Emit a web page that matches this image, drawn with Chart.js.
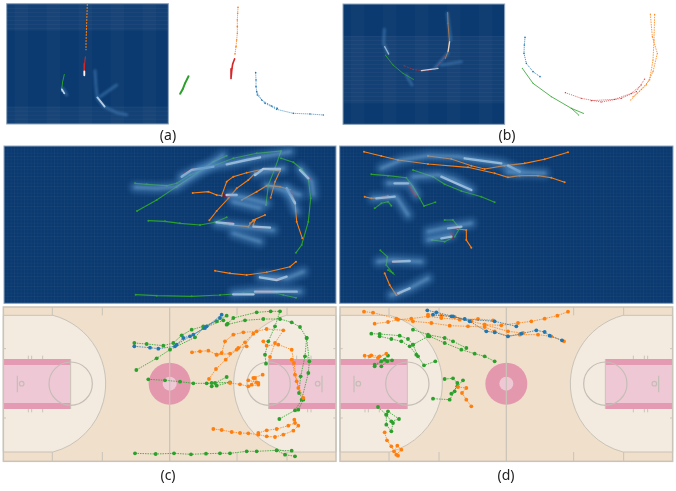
<!DOCTYPE html>
<html>
<head>
<meta charset="utf-8">
<script src="https://cdn.jsdelivr.net/npm/chart.js@4/dist/chart.umd.min.js"></script>
<style>
  html, body { margin: 0; padding: 0; background: #fff; }
  body { position: relative; width: 676px; height: 491px; overflow: hidden; }
  .panel { position: absolute; }
  .cap { position: absolute; font: 14px "Noto Sans", sans-serif; color: #222; transform: translateX(-50%); }
</style>
</head>
<body>
<canvas class="panel" id="a" width="338" height="145" style="left:0;top:0"></canvas>
<canvas class="panel" id="b" width="338" height="145" style="left:338px;top:0"></canvas>
<canvas class="panel" id="c" width="338" height="160" style="left:0;top:145px"></canvas>
<canvas class="panel" id="d" width="338" height="160" style="left:338px;top:145px"></canvas>
<canvas class="panel" id="e" width="338" height="188" style="left:0;top:303px"></canvas>
<canvas class="panel" id="f" width="338" height="188" style="left:338px;top:303px"></canvas>
<div class="cap" style="left:168px;top:125px">(a)</div>
<div class="cap" style="left:507px;top:125px">(b)</div>
<div class="cap" style="left:168px;top:465px">(c)</div>
<div class="cap" style="left:506px;top:465px">(d)</div>
<script>
// every panel has its own axis, in thirds of a pixel
const aOrange = [[262,12],[261,40],[260,70],[259,100],[258,130],[258,150]]
const aRed = [[256,170],[254,190],[253,205],[252,225]]
const aGreen = [[193,223],[188,245],[184,275]]
const aGlow = [[[285,212],[288,260],[292,295],[312,320],[350,338],[380,344]], [[188,265],[200,285]], [[300,290],[350,255]]]
const aWhite = [[[186,268],[193,280]], [[292,292],[314,320]], [[253,214],[253,226]]]
const aRightOrange = [[714,22],[713,40],[712,60],[712,80],[712,100],[710,120],[708,140],[705,162]]
const aRightRed = [[704,176],[698,192],[696,205],[693,236]]
const aRightGreen = [[566,228],[555,250],[548,268],[540,282]]
const aRightBlue = [[[767,218],[768,240],[768,260],[772,285],[795,310],[830,328],[880,340],[930,342],[970,345]], [[770,275],[785,300],[815,318],[832,325]]]

const bOrange = [[329,38],[330,70],[334,120],[332,150],[322,175]]
const bRed = [[198,197],[225,208],[255,213],[290,208],[320,170]]
const bGreen = [[142,165],[165,195],[195,220],[226,238]]
const bGlow = [[[139,88],[137,130],[150,160]], [[328,40],[338,120]], [[222,255],[205,225]], [[290,205],[330,160]], [[310,195],[370,185]]]
const bWhite = [[[140,140],[152,162]], [[250,212],[300,205]], [[335,125],[330,155]]]
const bRightBlue = [[561,112],[559,135],[558,160],[565,190],[585,215],[606,230]]
const bRightGreen = [[[553,205],[585,250],[640,290],[700,325],[736,340]], [[700,325],[722,345]]]
const bRightRed = [[[682,278],[730,295],[790,306],[850,295],[895,275],[920,237]], [[760,302],[830,298],[880,280],[910,255]]]
const bRightOrange = [[[937,42],[943,110],[958,160],[945,215],[925,255],[878,300]], [[950,43],[948,120],[945,180],[935,240],[910,268],[885,290]]]

const cGreen = [
  [[405,115],[440,118],[500,122],[530,115],[570,90],[620,70],[700,40],[770,25],[843,18],[825,70],[805,120],[798,180]],
  [[411,198],[470,165],[530,125],[590,85],[640,50],[680,32]],
  [[843,40],[880,52],[905,72],[925,100],[932,160],[925,230],[905,300],[888,323]],
  [[445,227],[495,229],[540,235],[600,240],[645,232],[680,217]],
  [[645,232],[690,240]],
  [[407,449],[470,452],[575,454],[660,450],[730,445],[830,445],[850,450],[888,458]]
]
const cOrange = [
  [[578,144],[625,140],[650,150],[665,152],[680,110],[700,95],[740,83],[790,72],[840,78],[825,110],[812,158]],
  [[628,226],[650,198],[685,160],[710,130],[745,105],[765,85]],
  [[725,165],[770,140],[800,122],[840,125],[870,135],[885,170],[890,230],[907,280]],
  [[690,240],[745,245],[760,225],[795,210]],
  [[750,235],[765,225],[760,240]],
  [[645,377],[690,385],[740,390],[800,382],[870,365],[888,350]]
]
const cGlow = [
  [[405,127],[470,130],[530,125],[600,80],[670,30]],
  [[545,95],[600,70],[690,55],[780,35],[870,20]],
  [[690,150],[740,160],[800,175]], [[700,170],[780,190]], [[650,235],[730,245],[820,255]],
  [[700,265],[780,290]], [[765,85],[850,70]], [[860,130],[890,200]], [[900,70],[935,110],[940,150]],
  [[780,395],[860,400],[910,380]], [[700,445],[800,435],[900,440]], [[800,120],[900,150]]
]
const cWhite = [
  [[545,95],[575,75],[640,65]], [[680,58],[740,45],[780,37]], [[765,90],[790,72],[840,72]],
  [[680,150],[710,150]], [[860,130],[885,175]], [[900,75],[925,100]], [[650,232],[700,237]],
  [[760,245],[810,248]], [[780,397],[830,405],[860,395]], [[700,448],[760,448]], [[765,440],[890,440]]
]
const cDarkRed = [
  [[555,85],[580,72]], [[672,152],[698,152]], [[868,138],[880,146]], [[920,95],[930,102]],
  [[678,235],[698,236]], [[760,246],[785,247]], [[825,403],[838,408]], [[770,440],[815,440]]
]

const dGreen = [
  [[100,88],[150,92],[205,98],[225,125],[245,160],[258,183],[292,172]],
  [[225,75],[285,95],[320,118],[370,138],[430,155],[470,172]],
  [[110,190],[130,175],[150,170],[160,182]],
  [[320,225],[345,225],[365,250],[350,275],[320,290],[282,285]],
  [[127,316],[148,335],[145,360],[165,385],[150,375]]
]
const dOrange = [
  [[78,20],[130,33],[180,45],[270,57],[390,67],[470,85],[510,97],[545,92],[600,92],[640,98],[680,112]],
  [[270,33],[340,42],[400,62],[440,72],[500,62],[560,55],[620,43],[690,22]],
  [[80,155],[100,160],[125,158],[150,152]],
  [[358,252],[385,255],[385,285],[400,308]],
  [[140,385],[155,420],[175,450],[190,445]]
]
const dGlow = [
  [[130,70],[190,45],[270,32],[360,35],[420,45],[490,55],[545,80]],
  [[225,95],[300,90],[350,105],[400,135]], [[150,115],[215,115],[235,150]],
  [[105,160],[175,155],[210,210]], [[270,260],[340,245],[400,235]], [[270,285],[340,270]],
  [[120,350],[165,345],[250,350]], [[160,450],[215,430],[270,400]], [[510,80],[620,85]]
]
const dWhite = [
  [[380,40],[490,55]], [[510,62],[545,80]], [[310,95],[400,135]], [[170,115],[210,115]],
  [[115,160],[170,155]], [[330,250],[370,245]], [[310,280],[340,275]], [[165,350],[215,348]], [[180,445],[215,430]]
]
const dDarkRed = [
  [[125,160],[155,155]], [[215,125],[235,155]], [[335,250],[360,248]], [[340,265],[345,278]],
  [[165,352],[190,345]], [[178,445],[192,442]]
]

const eGreen = [
  [[403,120],[440,123],[490,128],[520,120],[545,97],[575,80],[610,70],[650,55],[680,38]],
  [[680,65],[735,52],[790,48],[840,48],[875,58],[900,72],[920,105],[928,175],[925,210],[905,290],[885,322],[838,348]],
  [[683,62],[700,45],[770,28],[812,25],[840,25],[825,70],[805,115],[795,155],[798,182]],
  [[409,201],[470,166],[510,140],[585,103],[610,75],[670,52]],
  [[445,229],[495,232],[540,236],[580,241],[620,241],[645,240],[680,222]],
  [[635,240],[690,238],[650,248],[635,250]],
  [[405,451],[467,453],[522,451],[573,454],[618,452],[660,451],[690,451],[740,445],[770,445],[830,442],[875,443]],
  [[830,442],[855,455],[885,460]],
  [[920,105],[915,160],[902,220],[897,270],[910,290],[895,320]]
]
const eBlue = [
  [[403,130],[450,134],[475,137],[525,130],[550,105],[580,95],[620,70],[660,45]],
  [[530,125],[570,100],[615,75],[665,35]]
]
const eOrange = [
  [[576,148],[600,145],[625,143],[650,155],[665,150],[675,115],[700,95],[730,88],[770,85],[800,78],[850,82],[825,120],[810,162]],
  [[627,228],[648,198],[677,170],[710,140],[735,118],[760,92]],
  [[650,155],[690,152],[715,135],[740,130]],
  [[790,115],[800,128],[835,125],[875,140],[882,180],[890,235],[910,285]],
  [[875,170],[885,215],[895,255]],
  [[690,240],[720,244],[745,250],[775,245],[760,225],[788,215]],
  [[745,232],[770,238],[755,245],[765,225],[775,240]],
  [[640,378],[665,381],[695,387],[720,390],[745,391],[775,395],[800,400],[825,402],[850,395],[880,383],[895,368],[883,350]],
  [[775,390],[800,382],[830,378],[865,368],[885,360]]
]

const fOrange = [
  [[78,26],[105,29],[175,47],[225,55],[280,60],[335,68],[390,70],[440,72],[470,85],[510,100],[545,95],[600,95],[640,100],[678,115]],
  [[110,62],[150,57],[180,50],[220,47],[270,40],[310,45],[365,50],[420,48],[465,52]],
  [[270,35],[310,38],[350,42],[400,55],[440,65],[490,67],[540,60],[580,55],[620,47],[658,38],[690,26]],
  [[440,65],[510,85],[555,90]],
  [[80,158],[100,157],[125,160],[145,152],[120,165],[95,160]],
  [[360,252],[385,255],[372,270],[385,290],[400,310]],
  [[140,388],[147,412],[160,430],[175,455],[190,440],[178,428],[168,445],[180,458]]
]
const fBlue = [
  [[268,22],[295,28],[345,40],[395,55],[445,85],[470,88],[510,100],[550,92],[595,82],[620,87],[635,98],[672,112]],
  [[285,35],[340,40],[380,48],[470,55],[535,70]]
]
const fGreen = [
  [[100,92],[125,93],[185,98],[210,108],[225,125],[240,160],[258,187],[292,175]],
  [[125,100],[160,108],[190,115],[215,130],[235,155]],
  [[225,80],[270,95],[320,105],[345,115],[385,135]],
  [[225,125],[270,100]],
  [[275,100],[320,120],[370,140],[410,152],[440,160],[470,175]],
  [[110,190],[130,175],[150,158]],
  [[110,185],[140,170],[162,172]],
  [[130,190],[148,175]],
  [[320,228],[345,226],[358,240],[350,265],[335,290],[285,287]],
  [[375,232],[358,250],[340,272]],
  [[120,312],[145,335],[160,355],[183,348],[150,325]],
  [[145,335],[145,365],[160,385],[165,360]]
]

const BLUE = '#1f77b4', ORANGE = '#ff7f0e', GREEN = '#2ca02c', RED = '#d62728'
const NAVY = '#0b3a70', EDGE = '#8fa6bf'

function trail(points, color, width, radius, dash) {
  return {
    data: points.map(p => ({ x: p[0], y: p[1] })),
    borderColor: color,
    backgroundColor: color,
    borderWidth: width,
    borderDash: dash || [],
    pointRadius: radius,
    pointBorderWidth: 0,
    tension: 0,
    fill: false
  }
}

function streak(points, color, width, blur) {
  const d = trail(points, color, width, 0)
  d.borderCapStyle = 'round'
  d.borderJoinStyle = 'round'
  d.blur = blur || 0
  return d
}

const trails = (list, color, width, radius, dash) => list.map(l => trail(l, color, width, radius, dash))
const streaks = (list, color, width, blur) => list.map(l => streak(l, color, width, blur))

// soft edges for the heat streaks
const softGlow = {
  id: 'softGlow',
  beforeDatasetDraw(chart, args) {
    const blur = chart.data.datasets[args.index].blur
    if (blur) chart.ctx.filter = `blur(${blur}px)`
  },
  afterDatasetDraw(chart) {
    chart.ctx.filter = 'none'
  }
}

// navy backdrop for the heat panels
function heatBack(box, stripe, band, grid) {
  return {
    id: 'heatBack',
    beforeDatasetsDraw(chart) {
      const { ctx, scales: { x, y } } = chart
      const X = v => x.getPixelForValue(v), Y = v => y.getPixelForValue(v)
      const [l, t, r, b] = box
      ctx.save()
      ctx.fillStyle = NAVY
      ctx.fillRect(X(l), Y(t), X(r) - X(l), Y(b) - Y(t))
      if (stripe) {
        ctx.fillStyle = 'rgba(255,255,255,0.022)'
        for (let v = l + 24; v < r; v += 96) ctx.fillRect(X(v), Y(t), X(40) - X(0), Y(b) - Y(t))
      }
      if (band) {
        band.forEach(([b0, b1]) => {
          ctx.fillStyle = 'rgba(255,255,255,0.035)'
          ctx.fillRect(X(l), Y(b0), X(r) - X(l), Y(b1) - Y(b0))
          ctx.fillStyle = 'rgba(255,255,255,0.035)'
          for (let v = b0; v < b1; v += 12) ctx.fillRect(X(l), Y(v), X(r) - X(l), 1)
        })
      }
      if (grid) {
        ctx.fillStyle = 'rgba(255,255,255,0.03)'
        for (let v = l; v < r; v += 10) ctx.fillRect(X(v), Y(t), 1, Y(b) - Y(t))
        for (let v = t; v < b; v += 10) ctx.fillRect(X(l), Y(v), X(r) - X(l), 1)
      }
      ctx.strokeStyle = EDGE
      ctx.lineWidth = 1
      ctx.strokeRect(X(l), Y(t), X(r) - X(l), Y(b) - Y(t))
      ctx.restore()
    }
  }
}

// the basketball court under panels (c) and (d)
function courtBack(l, r) {
  return {
    id: 'courtBack',
    beforeDatasetsDraw(chart) {
      const { ctx, scales: { x, y } } = chart
      const X = v => x.getPixelForValue(v), Y = v => y.getPixelForValue(v)
      const R = v => X(v) - X(0)
      const T = 12, B = 475, MY = 242, MX = (l + r) / 2
      const rect = (x0, y0, x1, y1, c) => { ctx.fillStyle = c; ctx.fillRect(X(x0), Y(y0), X(x1) - X(x0), Y(y1) - Y(y0)) }
      const seg = (x0, y0, x1, y1) => { ctx.beginPath(); ctx.moveTo(X(x0), Y(y0)); ctx.lineTo(X(x1), Y(y1)); ctx.stroke() }
      ctx.save()
      rect(l, T, r, B, '#efdfcb')
      ctx.strokeStyle = '#c9c3b8'
      ctx.lineWidth = 1

      ;[[l, 1], [r, -1]].forEach(([edge, dir]) => {
        // three point zone
        const cx = edge + dir * 95, rad = 212, half = 205
        ctx.beginPath()
        ctx.moveTo(X(edge), Y(MY - half))
        ctx.lineTo(X(edge + dir * 149), Y(MY - half))
        const a = Math.asin(half / rad)
        if (dir > 0) ctx.arc(X(cx), Y(MY), R(rad), -a, a, false)
        else ctx.arc(X(cx), Y(MY), R(rad), Math.PI + a, Math.PI - a, true)
        ctx.lineTo(X(edge), Y(MY + half))
        ctx.closePath()
        ctx.fillStyle = '#f3ebe0'
        ctx.fill()
        ctx.stroke()
        seg(edge + dir * 147, T, edge + dir * 147, MY - half)
        seg(edge + dir * 147, B, edge + dir * 147, MY + half)

        // paint
        const p0 = Math.min(edge, edge + dir * 202), p1 = Math.max(edge, edge + dir * 202)
        rect(p0, 168, p1, 318, '#efc8d6')
        rect(p0, 168, p1, 186, '#e59ab3')
        rect(p0, 300, p1, 318, '#e59ab3')
        seg(edge + dir * 202, 168, edge + dir * 202, 318)

        // free throw circle
        ctx.strokeStyle = '#c4beb6'
        ctx.lineWidth = 1.2
        ctx.beginPath()
        ctx.arc(X(edge + dir * 202), Y(MY), R(65), 0, Math.PI * 2)
        ctx.stroke()

        // hoop
        seg(edge + dir * 42, 218, edge + dir * 42, 268)
        ctx.beginPath()
        ctx.arc(X(edge + dir * 55), Y(MY), R(7), 0, Math.PI * 2)
        ctx.stroke()
        ctx.strokeStyle = '#c9c3b8'
        ctx.lineWidth = 1

        // hash marks
        ;[75, 85, 118].forEach(m => {
          seg(edge + dir * m, 158, edge + dir * m, 168)
          seg(edge + dir * m, 318, edge + dir * m, 328)
        })
        seg(edge + dir * 297, T, edge + dir * 297, T + 25)
        seg(edge + dir * 297, B, edge + dir * 297, B - 28)
        seg(edge, 137, edge + dir * 8, 137)
        seg(edge, 345, edge + dir * 8, 345)
      })

      // mid court
      ctx.fillStyle = '#e498ae'
      ctx.beginPath(); ctx.arc(X(MX), Y(MY), R(63), 0, Math.PI * 2); ctx.fill()
      ctx.fillStyle = '#efc8d6'
      ctx.beginPath(); ctx.arc(X(MX), Y(MY), R(21), 0, Math.PI * 2); ctx.fill()
      ctx.lineWidth = 1.2
      seg(MX, T, MX, B)
      ctx.lineWidth = 1.5
      ctx.strokeRect(X(l), Y(T), X(r) - X(l), Y(B) - Y(T))
      ctx.restore()
    }
  }
}

function panel(id, datasets, plugin) {
  const canvas = document.getElementById(id)
  return new Chart(canvas.getContext('2d'), {
    type: 'line',
    data: { datasets },
    plugins: plugin ? [plugin, softGlow] : [softGlow],
    options: {
      responsive: false,
      animation: false,
      layout: { padding: 0, autoPadding: false },
      plugins: { legend: { display: false }, tooltip: { enabled: false } },
      scales: {
        x: { type: 'linear', display: false, min: 0, max: canvas.width * 3 },
        y: { type: 'linear', display: false, reverse: true, min: 0, max: canvas.height * 3 }
      }
    }
  })
}

const GLOW = 'rgba(74,134,190,0.5)', MID = 'rgba(170,210,240,0.6)', WHITE = 'rgba(255,255,255,0.95)', DARK = '#7c0a26'

panel('a', [
  ...streaks(aGlow, GLOW, 3, 1),
  ...streaks(aWhite, WHITE, 1.8, 0.5),
  trail(aOrange, ORANGE, 1, 0.4, [2, 1]),
  trail(aRed, RED, 1, 0.4),
  trail(aGreen, GREEN, 1, 0.4),
  trail(aRightOrange, ORANGE, 1, 0.8, [1, 1]),
  trail(aRightRed, RED, 1.6, 0.7),
  trail(aRightGreen, GREEN, 2, 0.8),
  ...trails(aRightBlue, BLUE, 0.8, 0.8, [1, 1])
], heatBack([20, 11, 505, 372], true, [[12, 92], [320, 372]], false))

panel('b', [
  ...streaks(bGlow, GLOW, 3, 1.2),
  ...streaks(bWhite, 'rgba(255,255,255,0.75)', 1.3, 0.5),
  trail(bOrange, ORANGE, 0.8, 0.5),
  trail(bRed, RED, 0.7, 0.5, [2, 1]),
  trail(bGreen, GREEN, 0.9, 0.5),
  trail(bRightBlue, BLUE, 0.9, 0.8, [1, 1]),
  ...trails(bRightGreen, GREEN, 0.8, 0.5),
  ...trails(bRightRed, RED, 0.7, 0.6, [1, 1]),
  ...trails(bRightOrange, ORANGE, 0.8, 0.6, [1.5, 1])
], heatBack([15, 12, 500, 373], true, [[108, 310]], false))

panel('c', [
  ...streaks(cGlow, GLOW, 11, 2.5),
  ...streaks(cGlow, MID, 2.5, 1.5),
  ...streaks(cWhite, WHITE, 2.4, 0.5),
  ...streaks(cDarkRed, DARK, 2.6),
  ...trails(cGreen, GREEN, 1.1, 1),
  ...trails(cOrange, ORANGE, 1.1, 1)
], heatBack([12, 3, 1008, 475], false, null, true))

panel('d', [
  ...streaks(dGlow, GLOW, 11, 2.5),
  ...streaks(dGlow, MID, 2.5, 1.5),
  ...streaks(dWhite, WHITE, 2.4, 0.5),
  ...streaks(dDarkRed, DARK, 2.6),
  ...trails(dGreen, GREEN, 1.1, 1),
  ...trails(dOrange, ORANGE, 1.1, 1)
], heatBack([5, 3, 1005, 475], false, null, true))

panel('e', [
  ...trails(eBlue, BLUE, 0.8, 1.9, [1.5, 1]),
  ...trails(eOrange, ORANGE, 0.8, 1.9, [1.5, 1]),
  ...trails(eGreen, GREEN, 0.8, 1.9, [1.5, 1])
], courtBack(10, 1008))

panel('f', [
  ...trails(fBlue, BLUE, 0.8, 1.9, [1.5, 1]),
  ...trails(fOrange, ORANGE, 0.8, 1.9, [1.5, 1]),
  ...trails(fGreen, GREEN, 0.8, 1.9, [1.5, 1])
], courtBack(6, 1004))
</script>
</body>
</html>
